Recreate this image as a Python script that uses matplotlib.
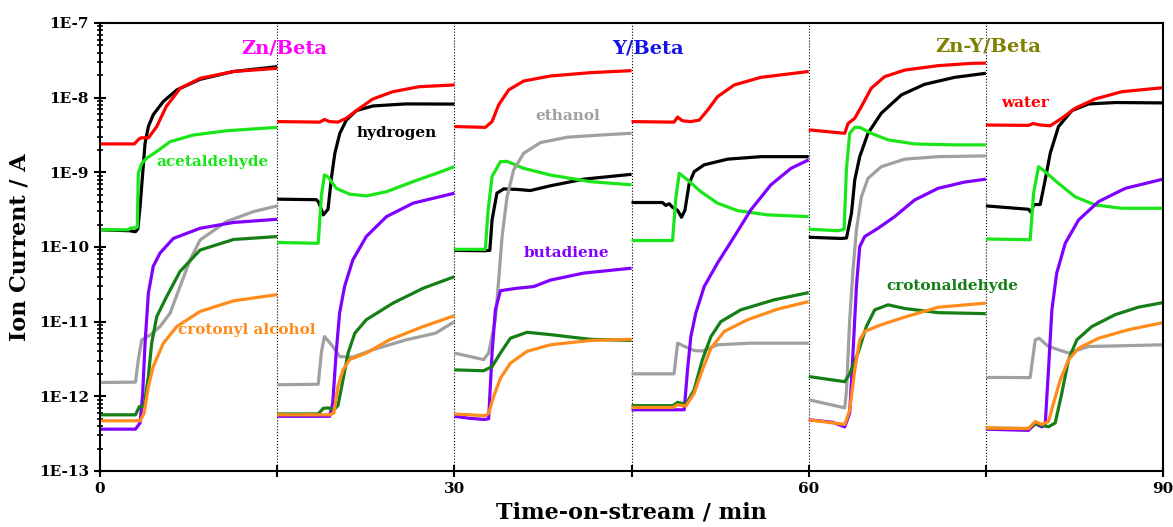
import numpy as np
import matplotlib
matplotlib.use("Agg")
import matplotlib.pyplot as plt
from matplotlib.ticker import LogLocator, NullFormatter, FixedLocator

plt.rcParams['font.family'] = ['DejaVu Serif']
plt.rcParams['font.weight'] = 'bold'

SEGMENT_LEN = 15  # minutes per run

# each species: one list of times (min, from start of run) and ion currents (A) per run
water_t = [[0, 2.9, 3.3, 3.5, 4.1, 4.8, 5.6, 6.8, 8.5, 11.3, 15],
           [0, 3.6, 4.0, 4.43, 5.14, 5.85, 6.97, 8.1, 9.78, 12.0, 15],
           [0, 2.62, 3.19, 3.75, 4.6, 5.87, 8.13, 11.5, 15],
           [0, 3.6, 3.9, 4.3, 5.0, 5.73, 6.44, 7.28, 8.7, 10.95, 15],
           [0, 3.05, 3.33, 3.9, 4.46, 5.3, 6.43, 8.13, 10.95, 13.8, 15],
           [0, 3.6, 4.0, 4.6, 5.45, 6.43, 7.56, 9.25, 11.5, 15]]
water_v = [[2.4e-9, 2.4e-9, 2.8e-9, 2.9e-9, 2.9e-9, 4.1e-9, 7.6e-9, 1.34e-8, 1.82e-8, 2.24e-8, 2.47e-8],
           [4.78e-9, 4.7e-9, 5.1e-9, 4.78e-9, 4.7e-9, 5.3e-9, 7.2e-9, 9.6e-9, 1.2e-8, 1.4e-8, 1.48e-8],
           [4.1e-9, 4.0e-9, 4.78e-9, 8.0e-9, 1.27e-8, 1.67e-8, 1.95e-8, 2.16e-8, 2.3e-8],
           [4.78e-9, 4.7e-9, 5.5e-9, 4.9e-9, 4.78e-9, 5.0e-9, 6.8e-9, 1.03e-8, 1.48e-8, 1.87e-8, 2.24e-8],
           [3.7e-9, 3.33e-9, 4.5e-9, 5.3e-9, 7.6e-9, 1.34e-8, 1.91e-8, 2.34e-8, 2.68e-8, 2.88e-8, 2.9e-8],
           [4.3e-9, 4.25e-9, 4.5e-9, 4.3e-9, 4.2e-9, 5.3e-9, 7.2e-9, 9.6e-9, 1.2e-8, 1.36e-8]]

hydrogen_t = [[0, 2.5, 3.0, 3.2, 3.39, 3.61, 3.81, 4.09, 4.5, 5.36, 6.5, 8.47, 11.3, 15],
              [0, 3.31, 3.5, 3.9, 4.3, 4.6, 4.88, 5.3, 5.85, 6.7, 8.1, 10.9, 15],
              [0, 2.5, 3.0, 3.19, 3.6, 4.18, 5.3, 6.43, 8.13, 10.95, 15],
              [0, 2.62, 2.9, 3.19, 3.47, 3.9, 4.23, 4.52, 4.88, 5.3, 6.15, 8.13, 10.95, 15],
              [0, 2.77, 3.2, 3.62, 3.9, 4.32, 5.02, 6.15, 7.85, 9.82, 12.36, 15],
              [0, 3.6, 3.85, 4.04, 4.6, 5.02, 5.45, 6.15, 7.28, 8.7, 11.0, 15]]
hydrogen_v = [[1.7e-10, 1.65e-10, 1.6e-10, 1.75e-10, 3.5e-10, 9.7e-10, 2.45e-9, 4.1e-9, 5.9e-9, 8.9e-9, 1.27e-8, 1.76e-8, 2.24e-8, 2.6e-8],
              [4.37e-10, 4.3e-10, 4.0e-10, 2.69e-10, 3.2e-10, 8.7e-10, 1.8e-9, 3.33e-9, 5.0e-9, 6.7e-9, 7.74e-9, 8.24e-9, 8.2e-9],
              [9.0e-11, 8.9e-11, 9.0e-11, 2.3e-10, 5.25e-10, 6.0e-10, 5.9e-10, 5.7e-10, 6.6e-10, 8.1e-10, 9.4e-10],
              [3.94e-10, 3.94e-10, 3.6e-10, 3.8e-10, 3.4e-10, 3.1e-10, 2.5e-10, 3.1e-10, 7.1e-10, 1.02e-9, 1.26e-9, 1.5e-9, 1.62e-9, 1.62e-9],
              [1.35e-10, 1.3e-10, 1.32e-10, 2.83e-10, 7.9e-10, 1.62e-9, 3.33e-9, 6.2e-9, 1.09e-8, 1.51e-8, 1.87e-8, 2.12e-8],
              [3.55e-10, 3.2e-10, 2.9e-10, 3.7e-10, 3.7e-10, 7.9e-10, 1.8e-9, 4.1e-9, 6.7e-9, 8.24e-9, 8.6e-9, 8.5e-9]]

acetaldehyde_t = [[0, 2.4, 2.6, 3.0, 3.15, 3.24, 3.53, 3.95, 4.8, 5.93, 7.9, 10.7, 15],
                  [0, 3.47, 3.75, 4.0, 4.3, 5.0, 6.13, 7.54, 9.25, 11.5, 13.5, 15],
                  [0, 2.62, 2.85, 3.19, 3.9, 4.46, 5.87, 8.13, 11.5, 15],
                  [0, 3.47, 3.75, 4.04, 4.74, 5.87, 7.28, 8.97, 11.5, 15],
                  [0, 2.5, 3.0, 3.19, 3.47, 3.9, 4.32, 5.3, 6.72, 8.97, 12.36, 15],
                  [0, 3.75, 4.04, 4.46, 5.02, 6.15, 7.56, 9.25, 11.5, 15]]
acetaldehyde_v = [[1.7e-10, 1.7e-10, 1.8e-10, 1.8e-10, 1.85e-10, 9.7e-10, 1.32e-9, 1.55e-9, 1.9e-9, 2.57e-9, 3.16e-9, 3.6e-9, 4.0e-9],
                  [1.15e-10, 1.12e-10, 5.0e-10, 9.2e-10, 8.7e-10, 6.1e-10, 5.1e-10, 4.83e-10, 5.5e-10, 7.5e-10, 9.7e-10, 1.19e-9],
                  [9.3e-11, 9.3e-11, 3.0e-10, 8.8e-10, 1.39e-9, 1.4e-9, 1.13e-9, 9.2e-10, 7.5e-10, 6.8e-10],
                  [1.22e-10, 1.22e-10, 4.5e-10, 9.7e-10, 7.9e-10, 5.5e-10, 3.86e-10, 3.07e-10, 2.69e-10, 2.55e-10],
                  [1.73e-10, 1.65e-10, 1.73e-10, 1.08e-9, 3.33e-9, 4.0e-9, 4.0e-9, 3.33e-9, 2.72e-9, 2.4e-9, 2.33e-9, 2.33e-9],
                  [1.28e-10, 1.25e-10, 5.25e-10, 1.19e-9, 1.02e-9, 7.1e-10, 4.7e-10, 3.66e-10, 3.3e-10, 3.3e-10]]

ethanol_t = [[0, 3.0, 3.24, 3.53, 4.23, 5.08, 5.93, 6.77, 7.62, 8.47, 10.7, 13.0, 15],
             [0, 3.47, 3.75, 4.0, 4.6, 5.3, 6.4, 8.1, 10.9, 13.4, 15],
             [0, 2.48, 2.9, 3.47, 3.75, 4.04, 4.46, 5.02, 5.87, 7.28, 9.54, 12.4, 15],
             [0, 3.6, 3.9, 4.3, 5.3, 6.0, 7.28, 10.0, 15],
             [0, 3.05, 3.2, 3.47, 3.75, 4.04, 4.46, 5.02, 6.15, 8.13, 10.95, 15],
             [0, 3.75, 4.18, 4.5, 5.3, 7.0, 8.7, 11.5, 15]]
ethanol_v = [[1.53e-12, 1.55e-12, 3.1e-12, 5.7e-12, 6.6e-12, 8.6e-12, 1.3e-11, 2.95e-11, 6.7e-11, 1.24e-10, 2.19e-10, 2.98e-10, 3.55e-10],
             [1.43e-12, 1.45e-12, 4.0e-12, 6.3e-12, 4.9e-12, 3.4e-12, 3.35e-12, 4.2e-12, 5.7e-12, 7.0e-12, 1.0e-11],
             [3.8e-12, 3.1e-12, 3.8e-12, 1.06e-11, 3.6e-11, 1.38e-10, 4.7e-10, 1.08e-9, 1.8e-9, 2.5e-9, 2.95e-9, 3.16e-9, 3.33e-9],
             [2.0e-12, 2.0e-12, 5.15e-12, 4.8e-12, 4.1e-12, 4.05e-12, 4.9e-12, 5.15e-12, 5.15e-12],
             [9e-13, 7.0e-13, 1.2e-12, 1.06e-11, 4.9e-11, 1.69e-10, 4.7e-10, 8.3e-10, 1.19e-9, 1.5e-9, 1.62e-9, 1.66e-9],
             [1.79e-12, 1.78e-12, 5.7e-12, 6.0e-12, 4.65e-12, 3.8e-12, 4.65e-12, 4.75e-12, 4.9e-12]]

butadiene_t = [[0, 3.0, 3.39, 3.61, 3.81, 4.09, 4.5, 5.08, 6.2, 8.47, 11.3, 15],
               [0, 4.43, 4.7, 4.99, 5.28, 5.7, 6.4, 7.54, 9.25, 11.5, 15],
               [0, 1.2, 2.5, 2.9, 3.19, 3.47, 3.9, 5.3, 6.72, 8.13, 10.95, 15],
               [0, 4.46, 4.74, 5.02, 5.44, 6.15, 7.28, 8.7, 10.1, 11.8, 13.5, 15],
               [0, 2.0, 3.05, 3.47, 3.75, 4.04, 4.32, 4.74, 5.87, 7.28, 8.97, 10.95, 13.2, 15],
               [0, 3.6, 4.18, 4.74, 5.02, 5.3, 5.59, 6.0, 6.72, 7.85, 9.54, 11.8, 15]]
butadiene_v = [[3.63e-13, 3.63e-13, 4.4e-13, 1.1e-12, 5.15e-12, 2.4e-11, 5.5e-11, 8.3e-11, 1.3e-10, 1.78e-10, 2.13e-10, 2.35e-10],
               [5.4e-13, 5.4e-13, 8.1e-13, 3.8e-12, 1.3e-11, 2.95e-11, 6.7e-11, 1.38e-10, 2.55e-10, 3.86e-10, 5.25e-10],
               [5.4e-13, 5.1e-13, 4.9e-13, 5.0e-13, 3.8e-12, 1.44e-11, 2.6e-11, 2.8e-11, 2.95e-11, 3.6e-11, 4.47e-11, 5.2e-11],
               [6.6e-13, 6.6e-13, 2.26e-12, 6.3e-12, 1.3e-11, 2.95e-11, 6.1e-11, 1.38e-10, 3.14e-10, 6.8e-10, 1.13e-9, 1.47e-9],
               [4.85e-13, 4.5e-13, 3.9e-13, 6e-13, 3.8e-12, 2.95e-11, 1.01e-10, 1.38e-10, 1.78e-10, 2.55e-10, 4.26e-10, 6.1e-10, 7.4e-10, 8.1e-10],
               [3.63e-13, 3.5e-13, 4.3e-13, 3.9e-13, 4.1e-13, 2.26e-12, 1.44e-11, 4.47e-11, 1.12e-10, 2.3e-10, 4.05e-10, 6.1e-10, 8.1e-10]]

crotonaldehyde_t = [[0, 3.0, 3.33, 3.72, 4.09, 4.37, 4.8, 5.64, 6.77, 8.47, 11.3, 15],
                    [0, 3.47, 3.9, 4.3, 4.8, 5.14, 5.57, 6.0, 6.57, 7.54, 9.8, 12.35, 15],
                    [0, 2.48, 3.19, 3.9, 4.74, 6.15, 8.13, 11.5, 15],
                    [0, 3.5, 3.9, 4.6, 5.3, 6.0, 6.72, 7.56, 9.25, 12.07, 15],
                    [0, 3.05, 3.47, 4.18, 4.88, 5.59, 6.72, 8.13, 10.95, 15],
                    [0, 3.6, 4.18, 4.74, 5.3, 5.87, 6.43, 7.0, 7.7, 8.97, 10.95, 12.9, 15]]
crotonaldehyde_v = [[5.65e-13, 5.65e-13, 7.3e-13, 7.3e-13, 1.84e-12, 5.15e-12, 1.17e-11, 2.17e-11, 4.7e-11, 9.1e-11, 1.26e-10, 1.38e-10],
                    [5.8e-13, 5.8e-13, 6.9e-13, 7.0e-13, 6.6e-13, 7.5e-13, 1.66e-12, 3.8e-12, 7.0e-12, 1.06e-11, 1.77e-11, 2.8e-11, 4.0e-11],
                    [2.26e-12, 2.2e-12, 2.5e-12, 3.8e-12, 6.0e-12, 7.2e-12, 6.7e-12, 5.8e-12, 5.6e-12],
                    [7.5e-13, 7.5e-13, 8.3e-13, 7.8e-13, 1.22e-12, 3.1e-12, 6.3e-12, 1.0e-11, 1.44e-11, 1.96e-11, 2.45e-11],
                    [1.84e-12, 1.57e-12, 2.0e-12, 3.8e-12, 8.6e-12, 1.44e-11, 1.68e-11, 1.5e-11, 1.32e-11, 1.28e-11],
                    [3.75e-13, 3.7e-13, 4.3e-13, 4.1e-13, 3.9e-13, 4.4e-13, 1.1e-12, 3.1e-12, 5.7e-12, 8.6e-12, 1.24e-11, 1.56e-11, 1.8e-11]]

crotonyl_t = [[0, 3.4, 3.72, 4.09, 4.5, 5.36, 6.5, 8.47, 11.3, 15],
              [0, 4.43, 4.8, 5.14, 5.57, 6.13, 7.54, 9.5, 12.35, 15],
              [0, 2.6, 2.9, 3.33, 3.9, 4.74, 6.15, 8.13, 11.5, 15],
              [0, 3.5, 3.9, 4.6, 5.3, 6.0, 6.72, 7.85, 9.82, 12.36, 15],
              [0, 3.05, 3.47, 3.9, 4.32, 4.74, 6.15, 8.13, 10.95, 15],
              [0, 3.6, 4.18, 4.74, 5.3, 5.73, 6.3, 7.0, 7.85, 9.54, 12.07, 15]]
crotonyl_v = [[4.7e-13, 4.7e-13, 5.9e-13, 1.35e-12, 2.5e-12, 5.15e-12, 8.6e-12, 1.37e-11, 1.9e-11, 2.3e-11],
              [5.65e-13, 5.65e-13, 6.0e-13, 1.35e-12, 2.26e-12, 3.1e-12, 3.8e-12, 5.7e-12, 8.6e-12, 1.2e-11],
              [5.8e-13, 5.5e-13, 5.9e-13, 1.0e-12, 1.75e-12, 2.78e-12, 4.0e-12, 4.9e-12, 5.6e-12, 5.8e-12],
              [7.1e-13, 7.1e-13, 7.7e-13, 7.4e-13, 1.1e-12, 2.26e-12, 4.4e-12, 7.4e-12, 1.06e-11, 1.47e-11, 1.86e-11],
              [4.85e-13, 4.2e-13, 6.5e-13, 2.26e-12, 5.7e-12, 7.4e-12, 9.1e-12, 1.15e-11, 1.56e-11, 1.77e-11],
              [3.75e-13, 3.7e-13, 4.6e-13, 4.2e-13, 4.6e-13, 8.1e-13, 1.66e-12, 3.1e-12, 4.4e-12, 6.0e-12, 7.8e-12, 9.7e-12]]

# drawing order: bottom to top
species = [
    (hydrogen_t, hydrogen_v, 'black'),
    (acetaldehyde_t, acetaldehyde_v, '#19E619'),
    (ethanol_t, ethanol_v, '#A0A0A0'),
    (butadiene_t, butadiene_v, '#8000FF'),
    (crotonaldehyde_t, crotonaldehyde_v, '#157F15'),
    (crotonyl_t, crotonyl_v, '#FF8C1A'),
    (water_t, water_v, '#FF0000'),
]

catalysts = ['Zn/Beta', 'Y/Beta', 'Zn-Y/Beta']
catalyst_colors = ['#FF00FF', '#1414E6', '#808000']
catalyst_pos = [(15.6, 4.6e-8), (46.4, 4.6e-8), (75.2, 4.8e-8)]

species_labels = ['hydrogen', 'acetaldehyde', 'ethanol', 'butadiene',
                  'crotonyl alcohol', 'crotonaldehyde', 'water']
species_label_colors = ['black', '#19E619', '#A0A0A0', '#8000FF',
                        '#FF8C1A', '#157F15', '#FF0000']
species_label_pos = [(25.1, 3.4e-9), (9.5, 1.36e-9), (39.6, 5.6e-9), (39.5, 8.3e-11),
                     (12.45, 7.8e-12), (72.2, 3.0e-11), (78.35, 8.4e-9)]

fig = plt.figure(figsize=(11.73, 5.27), dpi=100)
ax = fig.add_axes([0.0853, 0.1063, 0.9062, 0.8501])

for t_runs, v_runs, color in species:
    for k in range(len(t_runs)):
        t = np.array(t_runs[k]) + SEGMENT_LEN * k
        ax.plot(t, v_runs[k], color=color, lw=2.3, solid_joinstyle='round', solid_capstyle='butt')

# run boundaries
for k in range(1, 6):
    ax.axvline(SEGMENT_LEN * k, color='black', lw=0.8, ls=':', zorder=0)

ax.set_yscale('log')
ax.set_xlim(0, 90)
ax.set_ylim(1e-13, 1e-7)

ax.yaxis.set_major_locator(LogLocator(base=10, numticks=10))
ax.yaxis.set_minor_locator(LogLocator(base=10, subs=np.arange(2, 10), numticks=20))
ax.yaxis.set_minor_formatter(NullFormatter())
ax.set_yticks([1e-13, 1e-12, 1e-11, 1e-10, 1e-9, 1e-8, 1e-7])
ax.set_yticklabels(['1E-13', '1E-12', '1E-11', '1E-10', '1E-9', '1E-8', '1E-7'])

ax.xaxis.set_major_locator(FixedLocator([0, 15, 30, 45, 60, 75, 90]))
ax.set_xticklabels(['0', '', '30', '', '60', '', '90'])

ax.tick_params(axis='both', which='major', direction='inout', length=9, width=1.5,
               labelsize=11, top=False, right=False)
ax.tick_params(axis='y', which='minor', direction='inout', length=5, width=1.2, right=False)
for s in ax.spines.values():
    s.set_linewidth(1.5)

ax.set_xlabel('Time-on-stream / min', fontsize=16, fontweight='bold', labelpad=4)
ax.set_ylabel('Ion Current / A', fontsize=16, fontweight='bold', labelpad=6)

for name, color, (x, y) in zip(catalysts, catalyst_colors, catalyst_pos):
    ax.text(x, y, name, color=color, fontsize=14, fontweight='bold', ha='center', va='center')

for name, color, (x, y) in zip(species_labels, species_label_colors, species_label_pos):
    ax.text(x, y, name, color=color, fontsize=11, fontweight='bold', ha='center', va='center')

plt.savefig('out.png', dpi=100)
